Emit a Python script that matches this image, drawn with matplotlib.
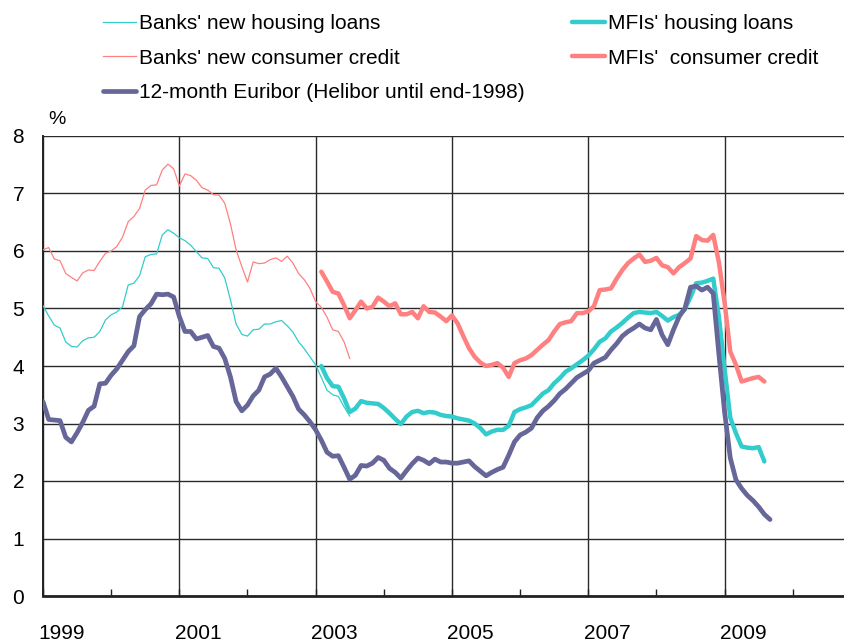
import numpy as np
import matplotlib
matplotlib.use("Agg")
import matplotlib.pyplot as plt
from matplotlib.transforms import ScaledTranslation

plt.rcParams['font.family'] = ['Liberation Sans', 'DejaVu Sans']

# ---- data: monthly, index 0 = Dec 1998 ----
banks_start = 0     # Dec 1998 .. Jun 2003
mfi_start = 49      # Jan 2003 .. Jul 2009
euribor_start = 0   # Dec 1998 .. Aug 2009

banks_housing = [
    5.05, 4.87, 4.71, 4.66, 4.42, 4.34, 4.33, 4.44, 4.49, 4.50, 4.60, 4.80,
    4.89, 4.94, 5.03, 5.41, 5.44, 5.57, 5.90, 5.94, 5.95, 6.28, 6.37, 6.31,
    6.23, 6.18, 6.10, 5.99, 5.88, 5.87, 5.71, 5.70, 5.53, 5.15, 4.73, 4.55,
    4.52, 4.63, 4.64, 4.73, 4.73, 4.77, 4.79, 4.70, 4.59, 4.42, 4.30, 4.16,
    4.02, 3.80, 3.58, 3.50, 3.47, 3.29, 3.13,
]
banks_consumer = [
    6.02, 6.06, 5.86, 5.83, 5.61, 5.54, 5.48, 5.62, 5.67, 5.66, 5.82, 5.96,
    6.00, 6.08, 6.24, 6.51, 6.60, 6.74, 7.06, 7.14, 7.15, 7.41, 7.51, 7.43,
    7.13, 7.34, 7.31, 7.23, 7.10, 7.06, 6.98, 6.97, 6.83, 6.47, 6.02, 5.73,
    5.46, 5.81, 5.78, 5.79, 5.85, 5.88, 5.82, 5.91, 5.79, 5.61, 5.50, 5.35,
    5.12, 5.02, 4.85, 4.63, 4.60, 4.42, 4.13,
]
mfi_housing = [
    4.00, 3.79, 3.65, 3.64, 3.44, 3.20, 3.26, 3.39, 3.36, 3.35, 3.34, 3.27,
    3.18, 3.08, 2.99, 3.12, 3.20, 3.22, 3.18, 3.20, 3.19, 3.15, 3.13, 3.12,
    3.09, 3.07, 3.05, 3.00, 2.92, 2.81, 2.86, 2.89, 2.89, 2.96, 3.20, 3.25,
    3.28, 3.32, 3.42, 3.52, 3.58, 3.70, 3.79, 3.90, 3.96, 4.03, 4.10, 4.18,
    4.29, 4.42, 4.48, 4.60, 4.67, 4.75, 4.84, 4.92, 4.94, 4.93, 4.92, 4.94,
    4.87, 4.79, 4.85, 4.89, 4.99, 5.20, 5.44, 5.45, 5.48, 5.52, 4.85, 3.95,
    3.10, 2.83, 2.60, 2.58, 2.57, 2.59, 2.34,
]
mfi_consumer = [
    5.64, 5.47, 5.29, 5.26, 5.06, 4.83, 4.97, 5.12, 5.00, 5.03, 5.19, 5.12,
    5.04, 5.09, 4.90, 4.90, 4.94, 4.83, 5.04, 4.94, 4.93, 4.86, 4.78, 4.88,
    4.74, 4.52, 4.31, 4.16, 4.06, 4.00, 4.02, 4.05, 3.97, 3.81, 4.05, 4.10,
    4.13, 4.19, 4.28, 4.37, 4.45, 4.60, 4.73, 4.76, 4.78, 4.92, 4.92, 4.95,
    5.04, 5.32, 5.33, 5.35, 5.52, 5.67, 5.79, 5.87, 5.94, 5.81, 5.83, 5.88,
    5.75, 5.72, 5.61, 5.72, 5.79, 5.87, 6.26, 6.19, 6.18, 6.28, 5.80, 5.10,
    4.25, 4.02, 3.73, 3.76, 3.79, 3.81, 3.73,
]
euribor = [
    3.38, 3.07, 3.06, 3.05, 2.76, 2.68, 2.84, 3.02, 3.23, 3.30, 3.69, 3.70,
    3.84, 3.95, 4.10, 4.25, 4.35, 4.86, 4.98, 5.08, 5.25, 5.24, 5.25, 5.20,
    4.86, 4.60, 4.60, 4.47, 4.50, 4.53, 4.34, 4.31, 4.13, 3.81, 3.38, 3.22,
    3.32, 3.48, 3.58, 3.81, 3.86, 3.96, 3.81, 3.64, 3.47, 3.25, 3.15, 3.03,
    2.89, 2.71, 2.50, 2.43, 2.44, 2.24, 2.03, 2.10, 2.27, 2.26, 2.31, 2.41,
    2.36, 2.22, 2.15, 2.05, 2.18, 2.30, 2.40, 2.36, 2.30, 2.38, 2.33, 2.33,
    2.31, 2.31, 2.33, 2.35, 2.25, 2.17, 2.09, 2.15, 2.20, 2.24, 2.45, 2.68,
    2.80, 2.85, 2.92, 3.10, 3.22, 3.30, 3.40, 3.52, 3.60, 3.70, 3.80, 3.86,
    3.92, 4.05, 4.10, 4.15, 4.28, 4.39, 4.52, 4.60, 4.66, 4.73, 4.66, 4.63,
    4.81, 4.54, 4.37, 4.63, 4.86, 5.00, 5.37, 5.39, 5.32, 5.37, 5.26, 4.20,
    3.20, 2.40, 2.02, 1.87, 1.75, 1.66, 1.55, 1.42, 1.33,
]

year_labels = ['1999', '2001', '2003', '2005', '2007', '2009', '']
y_ticks = [0, 1, 2, 3, 4, 5, 6, 7, 8]

teal = '#33CCCC'
salmon = '#FF8080'
purple = '#666699'

# ---- figure ----
W, H = 845, 644
fig = plt.figure(figsize=(W / 100, H / 100), dpi=100)
px_month = 5.68
ax = fig.add_axes([43 / W, 48 / H, 144 * px_month / W, 460 / H])


def months(start, values):
    return np.arange(start, start + len(values))


h1, = ax.plot(months(banks_start, banks_housing), banks_housing, color=teal,
              lw=0.9, label="Banks' new housing loans", zorder=3)
h2, = ax.plot(months(mfi_start, mfi_housing), mfi_housing, color=teal,
              lw=3.2, label="MFIs' housing loans", zorder=4,
              solid_joinstyle='round', solid_capstyle='round')
h3, = ax.plot(months(banks_start, banks_consumer), banks_consumer, color=salmon,
              lw=0.9, label="Banks' new consumer credit", zorder=3)
h4, = ax.plot(months(mfi_start, mfi_consumer), mfi_consumer, color=salmon,
              lw=3.2, label="MFIs'  consumer credit", zorder=4,
              solid_joinstyle='round', solid_capstyle='round')
h5, = ax.plot(months(euribor_start, euribor), euribor, color=purple,
              lw=3.4, label="12-month Euribor (Helibor until end-1998)", zorder=5,
              solid_joinstyle='round', solid_capstyle='round')

ax.set_xlim(0, 144)
ax.set_ylim(0, 8)

# x axis: gridlines every 2 years, ticks every year
ax.set_xticks(np.arange(0, 145, 24))
ax.set_xticks(np.arange(12, 145, 24), minor=True)
ax.set_xticklabels(year_labels)
ax.tick_params(axis='x', which='both', direction='in', length=5, width=1,
               color='#222222', labelsize=15, pad=20)
offset = ScaledTranslation(3.3 * px_month / 100, 0, fig.dpi_scale_trans)
for lab in ax.get_xticklabels():
    lab.set_transform(lab.get_transform() + offset)

ax.set_yticks(y_ticks)
ax.tick_params(axis='y', length=0, labelsize=15, pad=13.5)

ax.grid(True, which='major', color='#2a2a2a', lw=1.0)
ax.set_axisbelow(True)

for side in ['top', 'right']:
    ax.spines[side].set_visible(False)
ax.spines['left'].set_linewidth(1.4)
ax.spines['left'].set_color('#222222')
ax.spines['bottom'].set_linewidth(2.0)
ax.spines['bottom'].set_color('#222222')

fig.text(57 / W, 1 - 119 / H, '%', ha='center', va='center', fontsize=14)

# ---- legends ----
leg_kw = dict(loc='upper left', frameon=False, fontsize=15, handlelength=1.6,
              handletextpad=0.15, labelspacing=0.75, borderpad=0, borderaxespad=0)
fig.legend(handles=[h1, h3, h5], bbox_to_anchor=(103 / W, 1 - 14 / H), **leg_kw)
fig.legend(handles=[h2, h4], bbox_to_anchor=(572 / W, 1 - 14 / H), **leg_kw)

fig.savefig('out.png', dpi=100)
